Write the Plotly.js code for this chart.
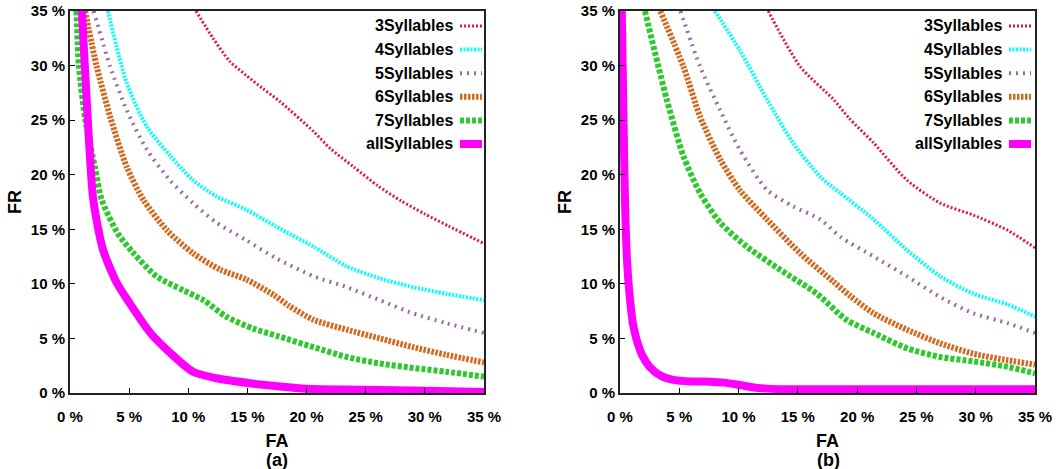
<!DOCTYPE html>
<html>
<head>
<meta charset="utf-8">
<script src="https://cdn.plot.ly/plotly-3.0.1.min.js"></script>
<style>
  html, body { margin: 0; padding: 0; background: #fff; }
  #chart { width: 1058px; height: 469px; }
</style>
</head>
<body>
<div id="chart"></div>
<script>
// ---------- data: panel (a) ----------
const seriesNames = ["3Syllables", "4Syllables", "5Syllables", "6Syllables", "7Syllables", "allSyllables"];

const a3x = [10.65, 12.1, 13.5, 14.9, 16.3, 17.75, 20.6, 22.0, 24.0, 26.0, 28.0, 30.0, 32.0, 35.0];
const a3y = [35.0, 32.5, 30.4, 29.1, 27.9, 26.7, 23.95, 22.4, 20.7, 19.0, 17.6, 16.4, 15.3, 13.7];

const a4x = [3.2, 4.8, 6.5, 8.5, 10.4, 12.4, 14.9, 17.5, 20.6, 23.4, 26.2, 29.0, 31.8, 35.0];
const a4y = [35.0, 28.4, 24.4, 21.7, 19.5, 18.0, 16.8, 15.2, 13.4, 11.6, 10.5, 9.7, 9.1, 8.5];

const a5x = [2.0, 3.4, 4.8, 6.5, 8.45, 10.4, 12.4, 14.9, 17.5, 20.6, 23.4, 26.2, 29.0, 31.8, 35.0];
const a5y = [35.0, 29.9, 25.9, 22.3, 19.5, 17.4, 15.6, 14.0, 12.3, 10.7, 9.7, 8.5, 7.3, 6.4, 5.5];

const a6x = [1.27, 2.26, 3.4, 4.8, 6.2, 8.2, 10.4, 12.7, 14.9, 17.2, 18.5, 20.6, 23.4, 26.2, 29.0, 31.8, 35.0];
const a6y = [35.0, 29.9, 25.3, 20.7, 17.7, 14.9, 12.8, 11.3, 10.4, 9.0, 8.0, 6.7, 5.8, 5.0, 4.2, 3.5, 2.8];

const a7x = [0.55, 0.75, 1.3, 2.1, 2.68, 4.05, 5.3, 7.3, 9.6, 11.3, 13.2, 15.5, 17.6, 20.6, 23.4, 26.2, 29.0, 31.8, 35.0];
const a7y = [35.0, 30.0, 25.0, 20.7, 17.7, 14.6, 12.9, 10.7, 9.4, 8.5, 7.0, 5.9, 5.2, 4.2, 3.3, 2.7, 2.3, 1.95, 1.5];

const aAllx = [1.0, 1.41, 1.97, 2.8, 3.95, 5.0, 6.8, 8.45, 10.4, 12.4, 15.2, 17.75, 20.0, 25.0, 30.0, 35.0];
const aAlly = [35.0, 26.9, 17.7, 13.1, 10.1, 8.3, 5.5, 3.7, 1.95, 1.35, 0.9, 0.6, 0.4, 0.3, 0.2, 0.1];

// ---------- data: panel (b) ----------
const b3x = [12.5, 15.2, 18.0, 19.3, 21.4, 24.2, 27.0, 29.8, 32.7, 35.0];
const b3y = [35.0, 29.9, 26.9, 25.2, 22.9, 19.5, 17.4, 16.3, 14.9, 13.3];

const b4x = [8.0, 10.1, 12.4, 14.6, 16.9, 18.6, 21.4, 24.2, 27.0, 29.8, 32.7, 35.0];
const b4y = [35.0, 31.4, 26.9, 22.9, 19.8, 18.3, 15.9, 13.1, 10.7, 9.1, 8.1, 7.0];

const b5x = [5.1, 6.76, 8.45, 10.1, 12.4, 14.6, 16.9, 18.6, 21.4, 24.2, 27.0, 29.8, 32.7, 35.0];
const b5y = [35.0, 29.9, 25.9, 22.3, 18.6, 17.1, 15.9, 14.3, 12.5, 10.7, 8.8, 7.3, 6.4, 5.5];

const b6x = [3.4, 5.35, 6.76, 8.45, 10.1, 12.4, 15.2, 18.0, 19.4, 21.4, 24.2, 27.0, 29.8, 32.7, 35.0];
const b6y = [35.0, 29.9, 25.3, 21.4, 18.6, 15.9, 12.8, 10.2, 8.9, 7.3, 5.8, 4.55, 3.6, 3.0, 2.6];

const b7x = [2.1, 3.94, 5.35, 6.76, 8.45, 10.7, 13.5, 16.6, 19.1, 21.4, 24.2, 27.0, 29.8, 32.7, 35.0];
const b7y = [35.0, 26.9, 21.7, 18.3, 15.6, 13.4, 11.3, 9.1, 6.7, 5.5, 4.1, 3.3, 2.9, 2.4, 1.8];

const bAllx = [0.15, 0.3, 0.42, 0.6, 0.85, 1.1, 1.4, 1.9, 2.5, 3.4, 4.5, 6.0, 7.6, 8.8, 10.1, 11.3, 12.4, 14.0, 20.0, 25.0, 30.0, 35.0];
const bAlly = [35.0, 25.0, 17.7, 12.0, 8.5, 6.3, 4.9, 3.4, 2.4, 1.6, 1.2, 1.05, 1.04, 0.95, 0.73, 0.5, 0.4, 0.35, 0.35, 0.35, 0.35, 0.35];

const tickVals = [0, 5, 10, 15, 20, 25, 30, 35];
const tickText = ["0 %", "5 %", "10 %", "15 %", "20 %", "25 %", "30 %", "35 %"];
const panelLabels = ["(a)", "(b)"];

// ---------- styles ----------
const styles = [
  {color: "#e4173f", width: 3, dash: "2px,2px"},
  {color: "#00ffff", width: 4, dash: "2px,1.5px"},
  {color: "#9b6aa6", width: 4, dash: "2px,5px"},
  {color: "#d2691e", width: 6, dash: "2.5px,1.5px"},
  {color: "#2fc92f", width: 6, dash: "4px,2px"},
  {color: "#ff00ff", width: 8, dash: "solid"}
];

const panelA = [[a3x, a3y], [a4x, a4y], [a5x, a5y], [a6x, a6y], [a7x, a7y], [aAllx, aAlly]];
const panelB = [[b3x, b3y], [b4x, b4y], [b5x, b5y], [b6x, b6y], [b7x, b7y], [bAllx, bAlly]];

const traces = [];
[[panelA, "x", "y"], [panelB, "x2", "y2"]].forEach(([panel, xa, ya]) => {
  panel.forEach((xy, i) => {
    traces.push({
      type: "scatter", mode: "lines",
      x: xy[0], y: xy[1], xaxis: xa, yaxis: ya,
      name: seriesNames[i], showlegend: false,
      line: {color: styles[i].color, width: styles[i].width, dash: styles[i].dash, shape: "spline", smoothing: 0.7}
    });
  });
});

const W = 1058, H = 469;
const px = v => v / W;
const py = v => 1 - v / H;

const FONT = "Liberation Sans, Arial, Helvetica, sans-serif";
const tickFont = {family: FONT, size: 15, color: "#000", weight: 700};
const titleFont = {family: FONT, size: 18, color: "#000", weight: 700};

function xAxis(domain, anchor) {
  return {
    domain: domain, anchor: anchor, range: [0, 35],
    tickvals: tickVals, ticktext: tickText, tickfont: tickFont,
    ticks: "inside", ticklen: 5, tickwidth: 1, tickcolor: "#000",
    ticklabelstandoff: 9,
    showline: true, linecolor: "#222", linewidth: 2, mirror: true,
    showgrid: false, zeroline: false, fixedrange: true,
    title: {text: "FA", font: titleFont, standoff: 10}
  };
}
function yAxis(domain, anchor) {
  return {
    domain: domain, anchor: anchor, range: [0, 35],
    tickvals: tickVals, ticktext: tickText, tickfont: tickFont,
    ticks: "inside", ticklen: 5, tickwidth: 1, tickcolor: "#000",
    showline: true, linecolor: "#222", linewidth: 2, mirror: true,
    showgrid: false, zeroline: false, fixedrange: true,
    title: {text: "FR", font: titleFont, standoff: 4}
  };
}

const yDom = [1 - 393 / H, 1 - 11 / H];
const layout = {
  width: W, height: H,
  margin: {l: 0, r: 0, t: 0, b: 0},
  paper_bgcolor: "#fff", plot_bgcolor: "#fff",
  showlegend: false,
  xaxis: xAxis([px(70), px(484)], "y"),
  yaxis: yAxis(yDom, "x"),
  xaxis2: xAxis([px(620), px(1035)], "y2"),
  yaxis2: yAxis(yDom, "x2"),
  annotations: [],
  shapes: []
};

// panel labels
[[277, panelLabels[0]], [828, panelLabels[1]]].forEach(([cx, t]) => {
  layout.annotations.push({
    xref: "paper", yref: "paper", x: px(cx), y: py(460),
    xanchor: "center", yanchor: "middle", showarrow: false,
    text: t, font: titleFont
  });
});

// legends (text right, sample on the right)
[[455, 460, 482], [1004, 1009, 1031]].forEach(([tx, s0, s1]) => {
  seriesNames.forEach((name, i) => {
    const yc = 26 + i * 23.6;
    layout.annotations.push({
      xref: "paper", yref: "paper", x: px(tx), y: py(yc),
      xanchor: "right", yanchor: "middle", showarrow: false,
      text: name, font: {family: FONT, size: 16, color: "#000", weight: 700}
    });
    layout.shapes.push({
      type: "line", xref: "paper", yref: "paper",
      x0: px(s0), x1: px(s1), y0: py(yc), y1: py(yc),
      line: {color: styles[i].color, width: styles[i].width, dash: styles[i].dash}
    });
  });
});

Plotly.newPlot("chart", traces, layout, {displayModeBar: false, staticPlot: true});
</script>
</body>
</html>
